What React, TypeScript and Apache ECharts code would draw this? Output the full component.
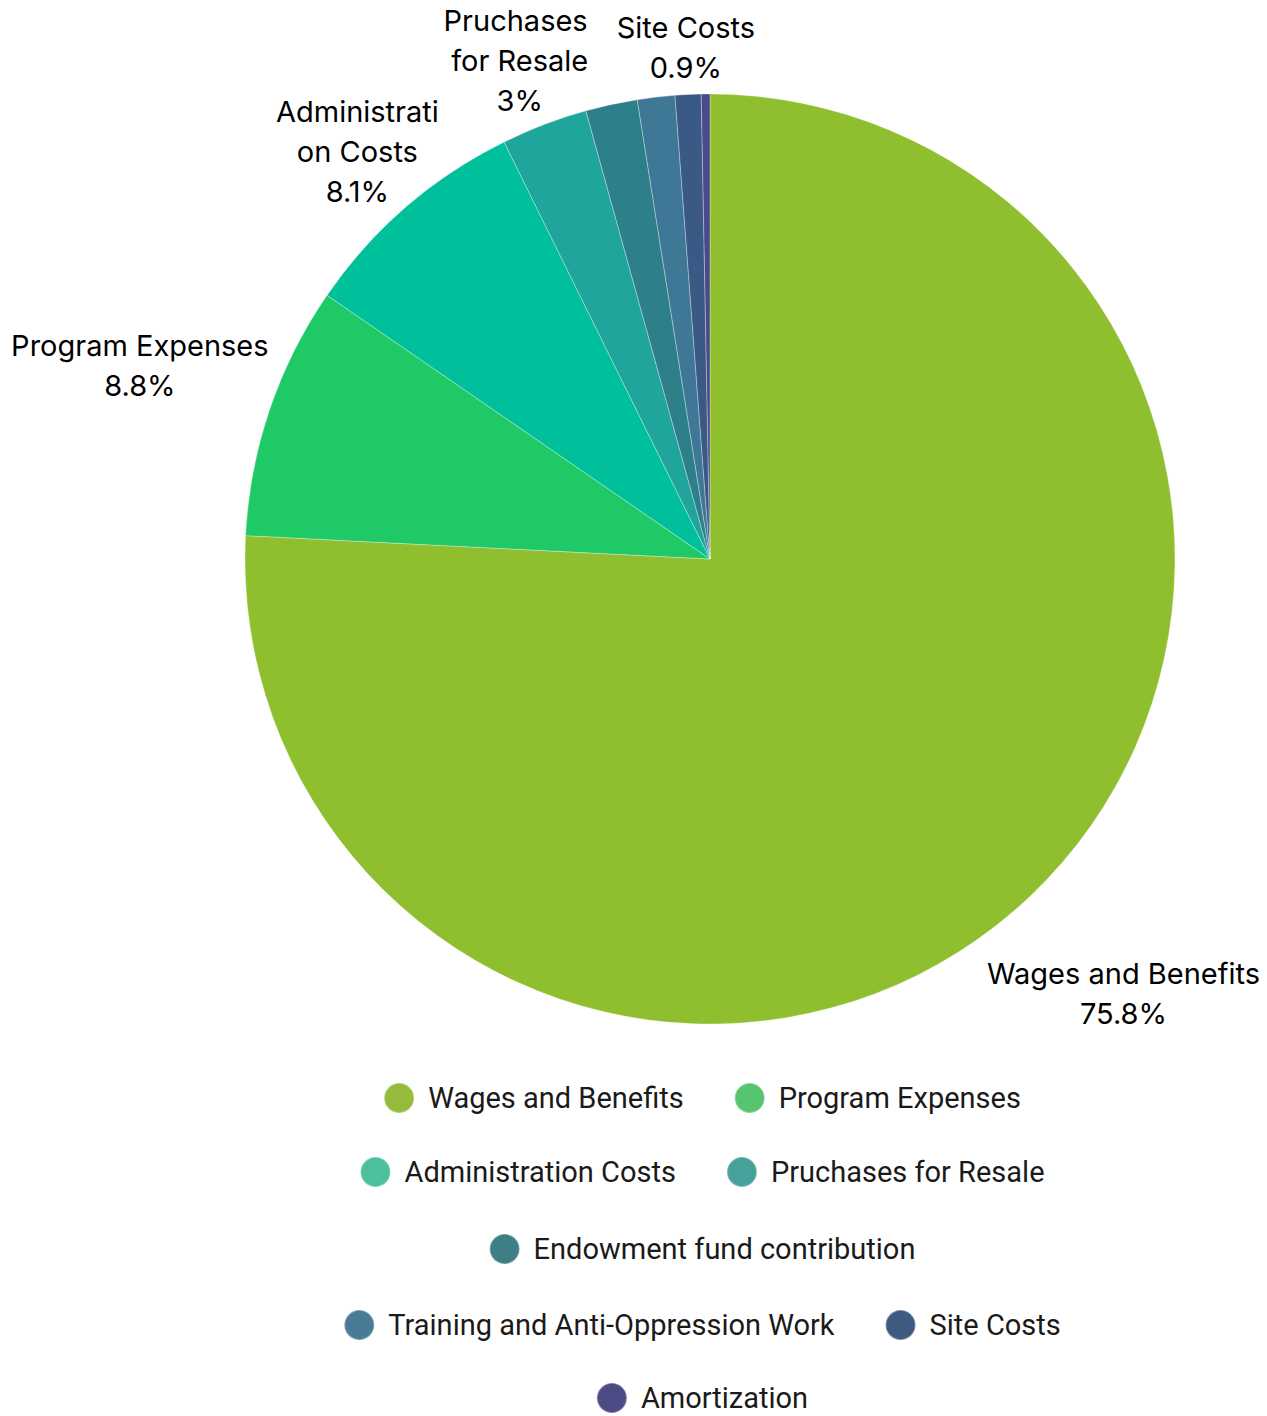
import React, { useEffect, useRef } from "react";
import * as echarts from "echarts";

const categories = [
  "Wages and Benefits",
  "Program Expenses",
  "Administration Costs",
  "Pruchases for Resale",
  "Endowment fund contribution",
  "Training and Anti-Oppression Work",
  "Site Costs",
  "Amortization",
];
const shares = [75.8, 8.8, 8.1, 3.0, 1.8, 1.3, 0.9, 0.3];
const colors = ["#8fbf2f", "#1fc966", "#00bf9b", "#1fa59c", "#2d8089", "#3f7897", "#3b5985", "#4b4a89"];
const legendColors = ["#94bb3c", "#56c56f", "#4cc09c", "#48a09a", "#3e7f86", "#4a7b96", "#3f5a80", "#4c4b86"];

// legend rows (indices into categories)
const legendRows = [[0, 1], [2, 3], [4], [5, 6], [7]];
const legendTops = [1077, 1151, 1228, 1304, 1377];

// label styling
const hiddenLabels = ["Endowment fund contribution", "Training and Anti-Oppression Work", "Amortization"];
const labelRadius: Record<string, number> = {
  "Wages and Benefits": 600,
  "Program Expenses": 602,
  "Administration Costs": 539,
  "Pruchases for Resale": 534,
  "Site Costs": 512,
};
const labelWrap: Record<string, { width: number; overflow: string }> = {
  "Administration Costs": { width: 178, overflow: "breakAll" },
  "Pruchases for Resale": { width: 156, overflow: "break" },
};

const CX = 710;
const CY = 559;
const R = 465;

export default function App() {
  const ref = useRef<HTMLDivElement>(null);
  useEffect(() => {
    if (!ref.current) return;
    const chart = echarts.init(ref.current, undefined, { renderer: "svg" });
    const total = shares.reduce((a, b) => a + b, 0);
    const data = categories.map((name, i) => {
      const item: any = { name, value: shares[i], itemStyle: { color: colors[i] } };
      if (hiddenLabels.includes(name)) item.label = { show: false };
      else if (labelWrap[name]) item.label = { width: labelWrap[name].width, overflow: labelWrap[name].overflow };
      return item;
    });
    const legends = legendRows.map((row, r) => ({
      orient: "horizontal",
      left: "center",
      top: legendTops[r],
      data: row.map((i) => ({ name: categories[i], itemStyle: { color: legendColors[i] } })),
      icon: "circle",
      itemWidth: 30,
      itemHeight: 30,
      itemGap: 50,
      textStyle: { fontFamily: "Roboto", fontSize: 29, color: "#1a1a1a", padding: [0, 0, 0, 9] },
      selectedMode: false,
    }));
    chart.setOption({
      animation: false,
      legend: legends,
      series: [
        {
          type: "pie",
          center: [CX, CY],
          radius: R,
          startAngle: 90,
          clockwise: true,
          data,
          itemStyle: { borderColor: "rgba(255,255,255,0.3)", borderWidth: 1 },
          label: {
            show: true,
            position: "outside",
            formatter: "{b}\n{d}%",
            fontFamily: "Inter, Roboto, sans-serif",
            fontSize: 29,
            lineHeight: 40,
            color: "#000",
            overflow: "none",
            align: "center",
          },
          labelLine: { show: false },
          labelLayout: (params: any) => {
            const i = params.dataIndex;
            let cum = 0;
            for (let k = 0; k < i; k++) cum += shares[k];
            cum += shares[i] / 2;
            const ang = (cum / total) * Math.PI * 2;
            const rr = labelRadius[categories[i]] || R + 60;
            return {
              x: CX + rr * Math.sin(ang),
              y: CY - rr * Math.cos(ang),
              align: "center",
              verticalAlign: "middle",
            };
          },
          emphasis: { disabled: true },
        },
      ],
    });
    return () => chart.dispose();
  }, []);
  return (
    <div style={{ position: "absolute", left: 0, top: 0, width: 1267, height: 1416, overflow: "hidden" }}>
      <div ref={ref} style={{ position: "absolute", left: 0, top: 0, width: 1404, height: 1416 }} />
    </div>
  );
}
